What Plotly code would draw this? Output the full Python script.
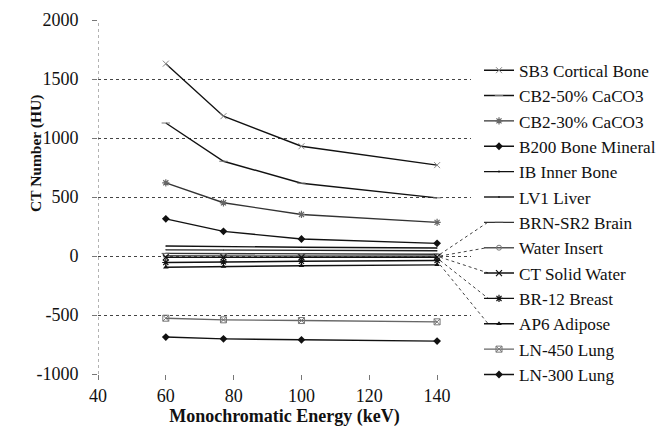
import plotly.graph_objects as go

energy = [60, 77, 100, 140]

sb3_cortical_bone = [1630, 1185, 930, 770]
cb2_50_caco3 = [1127, 803, 617, 493]
cb2_30_caco3 = [620, 451, 352, 285]
b200_bone_mineral = [315, 209, 144, 107]
ib_inner_bone = [85, 80, 74, 68]
lv1_liver = [52, 50, 48, 45]
brn_sr2_brain = [22, 20, 18, 15]
water_insert = [2, 0, 0, 0]
ct_solid_water = [-12, -12, -11, -10]
br12_breast = [-55, -50, -45, -38]
ap6_adipose = [-95, -88, -82, -75]
ln450_lung = [-527, -541, -547, -558]
ln300_lung = [-687, -702, -710, -721]

names = ["SB3 Cortical Bone", "CB2-50% CaCO3", "CB2-30% CaCO3", "B200 Bone Mineral",
         "IB Inner Bone", "LV1 Liver", "BRN-SR2 Brain", "Water Insert", "CT Solid Water",
         "BR-12 Breast", "AP6 Adipose", "LN-450 Lung", "LN-300 Lung"]
series = [sb3_cortical_bone, cb2_50_caco3, cb2_30_caco3, b200_bone_mineral, ib_inner_bone,
          lv1_liver, brn_sr2_brain, water_insert, ct_solid_water, br12_breast, ap6_adipose,
          ln450_lung, ln300_lung]
leader_series = ["BRN-SR2 Brain", "Water Insert", "CT Solid Water", "BR-12 Breast", "AP6 Adipose"]

x_ticks = [40, 60, 80, 100, 120, 140]
y_ticks = [-1000, -500, 0, 500, 1000, 1500, 2000]
y_tick_labels = ["-1000", "-500", "0", "500", "1000", "1500", "2000"]
x_range = [40, 150]
y_range = [-1000, 2000]

styles = [
    dict(line="#111", marker=dict(symbol="x-thin-open", size=6, color="#888", line=dict(width=1, color="#888"))),
    dict(line="#111", marker=dict(symbol="line-ew-open", size=6, color="#777", line=dict(width=1, color="#777"))),
    dict(line="#333", marker=dict(symbol="asterisk-open", size=6, color="#666", line=dict(width=1.2, color="#666"))),
    dict(line="#111", marker=dict(symbol="diamond", size=6, color="#111")),
    dict(line="#111", marker=dict(symbol="circle", size=1, color="#111")),
    dict(line="#222", marker=dict(symbol="circle", size=1, color="#222")),
    dict(line="#333", marker=dict(symbol="line-ew-open", size=6, color="#555", line=dict(width=1, color="#555"))),
    dict(line="#555", marker=dict(symbol="circle-open", size=5, color="#777", line=dict(width=1, color="#777"))),
    dict(line="#111", marker=dict(symbol="x-thin-open", size=6, color="#111", line=dict(width=1.2, color="#111"))),
    dict(line="#111", marker=dict(symbol="asterisk-open", size=6, color="#111", line=dict(width=1.2, color="#111"))),
    dict(line="#111", marker=dict(symbol="triangle-up", size=5, color="#111")),
    dict(line="#666", marker=dict(symbol="square-x-open", size=6, color="#777", line=dict(width=1, color="#777"))),
    dict(line="#111", marker=dict(symbol="diamond", size=6, color="#111")),
]

font_family = "Liberation Serif"
fig = go.Figure()
for name, vals, st in zip(names, series, styles):
    fig.add_trace(go.Scatter(
        x=energy, y=vals, name=name, mode="lines+markers",
        line=dict(color=st["line"], width=1.4),
        marker=st["marker"],
    ))

W, H = 666, 433
ml, mr, mt, mb = 98, 195, 20, 59
pw, ph = W - ml - mr, H - mt - mb

legend_font = 17.2
item_h = legend_font * 1.3 + 3
legend_top_px = 52.5
legend_pad_px = 17.5
legend_x_px = 479

# leader lines from last data point to legend entries
for k, name in enumerate(names):
    if name in leader_series:
        vals = series[k]
        x0 = (energy[-1] - x_range[0]) / (x_range[1] - x_range[0]) + 3 / pw
        y0 = (vals[-1] - y_range[0]) / (y_range[1] - y_range[0])
        item_center_px = legend_top_px + legend_pad_px + item_h * k
        y1 = (H - mb - item_center_px) / ph
        x1 = (legend_x_px + 9 - ml) / pw
        fig.add_shape(type="line", xref="paper", yref="paper", x0=x0, y0=y0, x1=x1, y1=y1,
                      line=dict(color="#444", width=1, dash="dot"))

# dotted vertical axis line
fig.add_shape(type="line", xref="x", yref="paper", x0=x_range[0], x1=x_range[0], y0=0, y1=1,
              line=dict(color="#666", width=1, dash="dot"))

axis_common = dict(
    gridcolor="#444", griddash="dot", gridwidth=1,
    zeroline=False, ticks="outside", ticklen=5, tickcolor="#777",
    tickfont=dict(family=font_family, size=18, color="#111"),
)

fig.update_layout(
    width=W, height=H,
    margin=dict(l=ml, r=mr, t=mt, b=mb, pad=0, autoexpand=False),
    paper_bgcolor="white", plot_bgcolor="white",
    font=dict(family=font_family, color="#111"),
    xaxis=dict(range=x_range, tickvals=x_ticks, showline=False, showgrid=False,
               ticklabelstandoff=0,
               title=dict(text="<b>Monochromatic Energy (keV)</b>", font=dict(family=font_family, size=18), standoff=0),
               **axis_common),
    yaxis=dict(range=y_range, tickvals=y_ticks, ticktext=y_tick_labels, showline=False, showgrid=True,
               ticklabelstandoff=10,
               **axis_common),
    legend=dict(x=(legend_x_px - ml) / pw, xanchor="left", y=(H - mb - legend_top_px) / ph, yanchor="top",
                font=dict(family=font_family, size=legend_font, color="#111"),
                bgcolor="rgba(0,0,0,0)", borderwidth=0, tracegroupgap=0),
    showlegend=True,
    annotations=[dict(text="<b>CT Number (HU)</b>", xref="paper", yref="paper",
                      x=(36 - ml) / pw, y=(H - mb - 154) / ph, xanchor="center", yanchor="middle",
                      textangle=-90, showarrow=False,
                      font=dict(family=font_family, size=15.5, color="#111"))],
)

fig.write_html("out.html", config={"displayModeBar": False},
               post_script="document.body.style.margin='0px';")
